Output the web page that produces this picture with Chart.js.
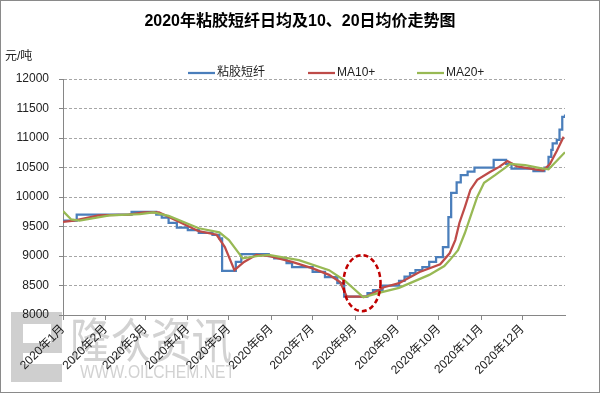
<!DOCTYPE html>
<html>
<head>
<meta charset="utf-8">
<script src="https://cdn.jsdelivr.net/npm/chart.js@4"></script>
<style>
  html, body { margin: 0; padding: 0; background: #fff; }
</style>
</head>
<body>
<canvas id="priceChart" width="600" height="393"></canvas>
<script>
/* ============================================================
   DATOS  (día del año 2020 -> 元/吨)
============================================================ */
const TITULO = '2020年粘胶短纤日均及10、20日均价走势图';
const MONTH_START  = [0, 31, 60, 91, 121, 152, 182, 213, 244, 274, 305, 335];
const MONTH_LABELS = ['2020年1月', '2020年2月', '2020年3月', '2020年4月', '2020年5月', '2020年6月',
                      '2020年7月', '2020年8月', '2020年9月', '2020年10月', '2020年11月', '2020年12月'];

const dailyDays  = [0, 10, 50, 68, 72, 77, 83, 91, 99, 109, 114, 116, 126, 130, 150, 154, 163, 167, 182, 191,
                    200, 205, 222, 226, 233, 245, 249, 253, 257, 262, 267, 272, 277, 281, 283, 287, 290, 295, 300, 314,
                    323, 327, 343, 351, 354, 356, 357, 360, 362, 364, 366];
const dailyPrice = [9600, 9700, 9750, 9700, 9650, 9560, 9480, 9440, 9390, 9360, 9300, 8750, 8900, 9030, 9000, 8960, 8880, 8810, 8730, 8640,
                    8540, 8310, 8370, 8420, 8500, 8580, 8650, 8710, 8760, 8810, 8900, 8980, 9150, 9660, 10070, 10250, 10370, 10430, 10500, 10630,
                    10560, 10480, 10440, 10500, 10680, 10800, 10910, 10970, 11140, 11360, 11400];

const ma10Days  = [0, 8, 26, 48, 59, 70, 81, 99, 112, 118, 125, 132, 141, 150, 167, 182, 194, 202, 207, 221,
                   234, 245, 260, 275, 282, 286, 289, 293, 297, 302, 311, 318, 324, 331, 344, 350, 355, 360, 365];
const ma10Price = [9580, 9600, 9690, 9700, 9740, 9740, 9620, 9420, 9360, 9150, 8760, 8900, 9020, 9000, 8900, 8790, 8680, 8560, 8310, 8310,
                   8470, 8540, 8730, 8860, 9050, 9270, 9560, 9830, 10120, 10290, 10420, 10510, 10610, 10520, 10470, 10450, 10560, 10780, 11020];

const ma20Days  = [0, 6, 12, 34, 56, 66, 77, 99, 114, 121, 131, 142, 150, 172, 194, 205, 219, 231, 245, 267,
                   278, 282, 288, 293, 298, 302, 307, 315, 322, 326, 337, 348, 354, 359, 366];
const ma20Price = [9760, 9620, 9600, 9690, 9710, 9740, 9680, 9470, 9400, 9270, 8960, 9000, 9020, 8930, 8760, 8590, 8300, 8380, 8460, 8680,
                   8830, 8930, 9100, 9390, 9730, 10000, 10240, 10370, 10490, 10560, 10540, 10490, 10470, 10590, 10760];

// círculo rojo punteado (centro y radios en unidades de datos)
const circleDay = 218, circleValue = 8540, circleDaysR = 13.5, circleValueR = 475;

const FONT = 'Arial, "Liberation Sans", "Noto Sans CJK SC", sans-serif';
const toPoints = (xs, ys) => xs.map((x, i) => ({ x, y: ys[i] }));

/* ============================================================
   PLUGINS
============================================================ */
const decoracion = {
    id: 'decoracion',
    beforeDraw(chart) {
        const ctx = chart.ctx;
        ctx.save();
        // marca de agua
        ctx.fillStyle = '#cfcfcf';
        ctx.fillRect(11, 312, 51, 70);
        ctx.fillStyle = '#fff';
        ctx.fillRect(23, 324, 28, 19);
        ctx.fillRect(23, 353, 39, 11);
        ctx.fillStyle = '#d2d2d2';
        ctx.font = '48px "Noto Sans CJK SC", sans-serif';
        ctx.textBaseline = 'alphabetic';
        ctx.fillText('隆众资讯', 70, 358, 162);
        ctx.font = '18px ' + FONT;
        ctx.fillText('WWW.OILCHEM.NET', 80, 378, 155);
        ctx.restore();
    },
    afterDatasetsDraw(chart) {
        const { ctx, scales: { x, y } } = chart;
        const cx = x.getPixelForValue(circleDay), cy = y.getPixelForValue(circleValue);
        const rx = x.getPixelForValue(circleDay + circleDaysR) - cx;
        const ry = cy - y.getPixelForValue(circleValue + circleValueR);
        ctx.save();
        ctx.strokeStyle = '#c00000';
        ctx.lineWidth = 2.5;
        ctx.setLineDash([5, 3]);
        ctx.beginPath();
        ctx.ellipse(cx, cy, rx, ry, 0, 0, Math.PI * 2);
        ctx.stroke();
        ctx.restore();
    },
    afterDraw(chart) {
        const ctx = chart.ctx;
        ctx.save();
        // título
        ctx.fillStyle = '#000';
        ctx.font = 'bold 16px ' + FONT;
        ctx.textAlign = 'center';
        ctx.textBaseline = 'middle';
        ctx.fillText(TITULO, 300, 22);
        // unidad
        ctx.textAlign = 'left';
        ctx.fillStyle = '#222';
        ctx.font = '12px ' + FONT;
        ctx.fillText('元/吨', 5, 57);
        // leyenda
        const posX = [188, 308, 417];
        chart.data.datasets.forEach((ds, i) => {
            ctx.strokeStyle = ds.borderColor;
            ctx.lineWidth = 2.25;
            ctx.beginPath();
            ctx.moveTo(posX[i], 73);
            ctx.lineTo(posX[i] + 27, 73);
            ctx.stroke();
            ctx.fillStyle = '#222';
            ctx.fillText(ds.label, posX[i] + 29, 73);
        });
        // borde
        ctx.strokeStyle = '#8a8a8a';
        ctx.lineWidth = 1;
        ctx.strokeRect(0.5, 0.5, 599, 392);
        ctx.restore();
    }
};

/* ============================================================
   GRÁFICO
============================================================ */
const lineaBase = { fill: false, pointRadius: 0, borderWidth: 2.25, tension: 0 };

new Chart(document.getElementById('priceChart').getContext('2d'), {
    type: 'line',
    data: {
        datasets: [
            { ...lineaBase, label: '粘胶短纤', data: toPoints(dailyDays, dailyPrice), borderColor: '#4a7ebb', backgroundColor: '#4a7ebb', stepped: true, order: 2 },
            { ...lineaBase, label: 'MA10+',   data: toPoints(ma10Days, ma10Price),   borderColor: '#be4b48', backgroundColor: '#be4b48', order: 1 },
            { ...lineaBase, label: 'MA20+',   data: toPoints(ma20Days, ma20Price),   borderColor: '#98b954', backgroundColor: '#98b954', order: 0 }
        ]
    },
    options: {
        responsive: false,
        animation: false,
        layout: { padding: { left: 0, right: 35, top: 79, bottom: 0 } },
        plugins: {
            legend: { display: false },
            tooltip: { enabled: false },
            title: { display: false }
        },
        scales: {
            x: {
                type: 'linear',
                min: 0,
                max: 366,
                afterBuildTicks: s => { s.ticks = MONTH_START.map(v => ({ value: v })); },
                afterFit: s => { s.height = 78; },
                grid: { drawOnChartArea: false, tickLength: 5, color: '#868686' },
                border: { color: '#868686' },
                ticks: {
                    autoSkip: false, minRotation: 45, maxRotation: 45, padding: 2,
                    color: '#222', font: { family: FONT, size: 12 },
                    callback: (v, i) => MONTH_LABELS[i]
                }
            },
            y: {
                min: 8000,
                max: 12000,
                afterFit: s => { s.width = 63; },
                grid: { color: '#a6a6a6', tickLength: 4, tickColor: '#868686' },
                border: { color: '#868686', dash: [3, 2] },
                ticks: { stepSize: 500, padding: 10, color: '#222', font: { family: FONT, size: 12 },
                         callback: v => String(v) }
            }
        }
    },
    plugins: [decoracion]
});
</script>
</body>
</html>
